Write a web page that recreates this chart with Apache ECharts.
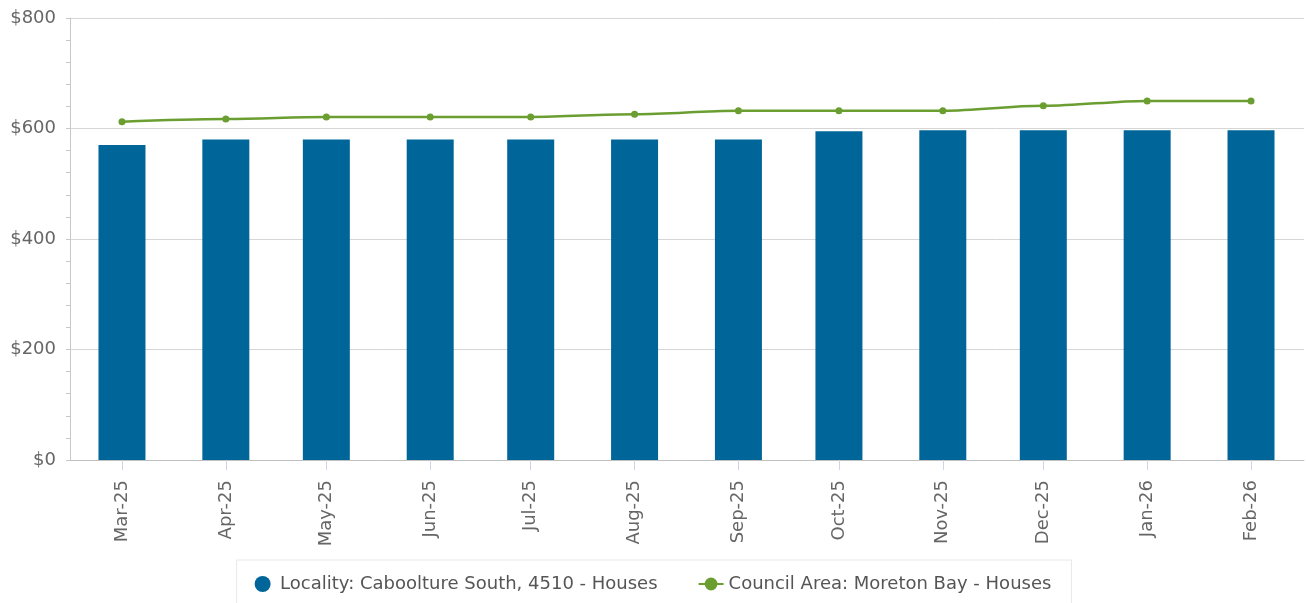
<!DOCTYPE html>
<html>
<head>
<meta charset="utf-8">
<script src="https://cdn.jsdelivr.net/npm/echarts@6/dist/echarts.min.js"></script>
<style>
html,body{margin:0;padding:0;background:#fff;}
#chart{width:1306px;height:603px;}
</style>
</head>
<body>
<div id="chart"></div>
<script>
// ---- data ----
const months = ['2025-03','2025-04','2025-05','2025-06','2025-07','2025-08','2025-09','2025-10','2025-11','2025-12','2026-01','2026-02'];
const monthNames = ['Jan','Feb','Mar','Apr','May','Jun','Jul','Aug','Sep','Oct','Nov','Dec'];
const localityValues = [570, 580, 580, 580, 580, 580, 580, 595, 597, 597, 597, 597];
const councilValues = [612, 617, 621, 621, 621, 626, 632, 632, 632, 641, 650, 650];
const yTicks = [0, 200, 400, 600, 800];
const seriesNames = ['Locality: Caboolture South, 4510 - Houses', 'Council Area: Moreton Bay - Houses'];

function toTs(m){ const p = m.split('-'); return Date.UTC(+p[0], +p[1]-1, 1); }
const xs = months.map(toTs);

const chart = echarts.init(document.getElementById('chart'));
const FONT = 'DejaVu Sans';
const DAY = 86400000;
chart.setOption({
  useUTC: true,
  animation: false,
  textStyle: { fontFamily: FONT },
  grid: { left: 70, right: 2, top: 18, bottom: 143, containLabel: false },
  legend: {
    left: 'center',
    top: 560,
    padding: [15, 20, 14, 18],
    borderColor: '#e8e8e8',
    borderWidth: 1,
    itemGap: 40,
    itemWidth: 25,
    itemHeight: 16,
    textStyle: { fontFamily: FONT, fontSize: 18, color: '#555' },
    data: [
      { name: seriesNames[0], icon: 'circle' },
      { name: seriesNames[1] }
    ]
  },
  xAxis: {
    type: 'time',
    // ECharts widens a bar axis by the bar width, so the range is set that much narrower
    min: xs[0] - 8.5 * DAY,
    max: xs[xs.length - 1] + 8.8 * DAY,
    splitNumber: 12,
    minInterval: 28 * DAY,
    axisLine: { show: true, lineStyle: { color: '#c0c0c0', width: 1 } },
    axisTick: { show: true, length: 10, lineStyle: { color: '#ccd6eb' } },
    splitLine: { show: false },
    axisLabel: {
      rotate: 90,
      margin: 20,
      fontFamily: FONT,
      fontSize: 18,
      color: '#666',
      hideOverlap: false,
      formatter: function (v) {
        const d = new Date(v);
        return monthNames[d.getUTCMonth()] + '-' + String(d.getUTCFullYear()).slice(2);
      }
    }
  },
  yAxis: {
    type: 'value',
    min: yTicks[0],
    max: yTicks[yTicks.length - 1],
    interval: yTicks[1] - yTicks[0],
    axisLine: { show: true, lineStyle: { color: '#c8c8c8' } },
    axisTick: { show: true, length: 4, lineStyle: { color: '#c8c8c8' } },
    minorTick: { show: true, splitNumber: 5, length: 4, lineStyle: { color: '#c8c8c8' } },
    splitLine: { show: true, lineStyle: { color: '#d6d6d6', width: 1 } },
    axisLabel: {
      margin: 14,
      fontFamily: FONT,
      fontSize: 18,
      color: '#666',
      formatter: function (v) { return '$' + v; }
    }
  },
  series: [
    {
      name: seriesNames[0],
      type: 'bar',
      barWidth: 47,
      itemStyle: { color: '#00669a' },
      data: xs.map((x, i) => [x, localityValues[i]])
    },
    {
      name: seriesNames[1],
      type: 'line',
      smooth: 0.35,
      smoothMonotone: 'x',
      symbol: 'circle',
      symbolSize: 7,
      showSymbol: true,
      lineStyle: { color: '#6b9e31', width: 2.5 },
      itemStyle: { color: '#6b9e31' },
      data: xs.map((x, i) => [x, councilValues[i]])
    }
  ]
});
</script>
</body>
</html>
